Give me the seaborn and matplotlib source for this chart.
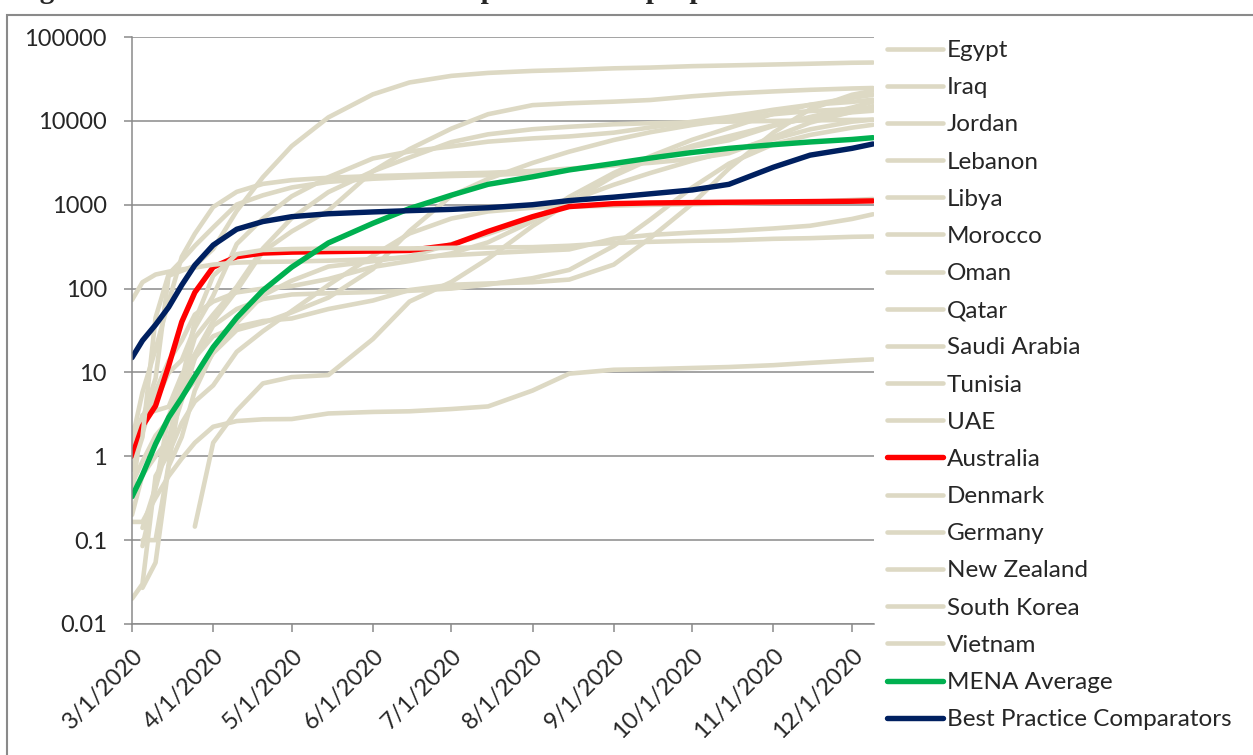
import numpy as np
import pandas as pd
import matplotlib
matplotlib.use("Agg")
import matplotlib.pyplot as plt
from matplotlib.patches import Rectangle
import seaborn as sns

# Date di riferimento (casi cumulati per milione di abitanti)
dates = ["2020-03-01", "2020-03-05", "2020-03-10", "2020-03-15", "2020-03-20", "2020-03-25",
         "2020-04-01", "2020-04-10", "2020-04-20", "2020-05-01", "2020-05-15", "2020-06-01",
         "2020-06-15", "2020-07-01", "2020-07-15", "2020-08-01", "2020-08-15", "2020-09-01",
         "2020-09-15", "2020-10-01", "2020-10-15", "2020-11-01", "2020-11-15", "2020-12-01",
         "2020-12-09"]
nan = np.nan

egypt = [0.02, 0.03, 0.58, 1.08, 2.5, 4.5, 7, 17.6, 31, 54, 110, 246, 454, 684, 831, 922, 947,
         973, 996, 1015, 1031, 1056, 1084, 1140, 1170]
iraq = [0.47, 0.87, 1.76, 2.7, 5.2, 7.9, 17, 32, 39, 52, 78, 171, 486, 1280, 2030, 3150, 4290,
        5910, 7320, 8930, 10340, 12000, 13090, 13850, 14150]
jordan = [nan, 0.1, 0.1, 0.8, 6.8, 15, 27, 35, 41, 44, 57, 72, 96, 111, 115, 119, 128, 193, 402,
          1025, 2700, 7250, 13760, 20470, 22850]
lebanon = [1.5, 1.9, 6, 13.7, 24, 49, 70, 90, 100, 107, 130, 181, 213, 263, 356, 637, 1240, 2390,
           3780, 5950, 8230, 12150, 15550, 18800, 20440]
libya = [nan, nan, nan, nan, nan, 0.145, 1.45, 3.5, 7.4, 8.8, 9.3, 25, 70, 120, 227, 556, 1060,
         2200, 3470, 5050, 6550, 8880, 10770, 12640, 13200]
morocco = [nan, 0.027, 0.054, 0.76, 1.7, 6.1, 17.7, 39, 83, 124, 183, 212, 242, 340, 448, 678,
           1110, 1730, 2390, 3350, 4345, 6060, 7920, 9770, 10350]
oman = [1.2, 3.1, 3.5, 3.9, 9.4, 16.5, 41, 95, 276, 480, 851, 2510, 4600, 8080, 12000, 15400,
        16220, 16940, 17730, 19660, 21130, 22440, 23440, 24330, 24650]
qatar = [0.35, 2.8, 8.5, 142, 163, 187, 296, 843, 2130, 5000, 11000, 20700, 28700, 34400, 37300,
         39400, 40500, 42300, 43200, 44900, 45800, 47000, 48000, 49300, 49600]
saudi = [nan, 0.14, 0.43, 3, 7.9, 26, 49, 105, 301, 692, 1413, 2504, 3665, 5580, 6910, 7950, 8500,
         9100, 9375, 9615, 9790, 9980, 10120, 10260, 10310]
tunisia = [nan, 0.085, 0.42, 1.5, 4.6, 14.7, 36, 57, 75, 85, 88, 91, 94, 100, 112, 133, 167, 322,
           666, 1606, 3090, 5270, 6790, 8300, 8980]
uae = [2.1, 2.8, 4.5, 9.9, 14, 34, 82, 340, 685, 1260, 2130, 3560, 4310, 4960, 5650, 6180, 6520,
       7230, 8350, 9760, 11120, 13570, 15520, 16830, 17880]
australia = [1, 2.3, 4, 12, 40, 90, 180, 240, 265, 272, 276, 280, 285, 330, 480, 720, 950, 1030,
             1050, 1060, 1070, 1080, 1090, 1100, 1110]
denmark = [0.69, 1.7, 45, 149, 216, 323, 535, 1005, 1295, 1605, 1872, 2040, 2128, 2200, 2250,
           2380, 2620, 2945, 3550, 4900, 5870, 8710, 11130, 14400, 16900]
germany = [1.57, 5.8, 18.9, 70, 239, 450, 938, 1424, 1772, 1964, 2098, 2195, 2251, 2346, 2402,
           2526, 2692, 2949, 3154, 3515, 4111, 6420, 9524, 12860, 14960]
new_zealand = [0.2, 0.6, 1.0, 1.6, 7.8, 41, 142, 257, 288, 296, 300, 301, 301, 306, 309, 312, 324,
               350, 361, 371, 376, 392, 399, 414, 418]
south_korea = [73, 119, 147, 159, 169, 178, 193, 204, 208, 210, 215, 224, 236, 250, 264, 280, 293,
               393, 436, 466, 485, 521, 561, 676, 769]
vietnam = [0.165, 0.165, 0.32, 0.58, 0.94, 1.45, 2.25, 2.63, 2.76, 2.78, 3.24, 3.38, 3.44, 3.66,
           3.93, 6.08, 9.67, 10.76, 10.96, 11.3, 11.6, 12.2, 13.0, 13.9, 14.3]
mena_average = [0.33, 0.6, 1.4, 2.9, 5, 9, 20, 45, 95, 180, 350, 600, 900, 1300, 1750, 2150, 2600,
                3100, 3600, 4200, 4700, 5200, 5600, 6000, 6300]
best_practice = [15, 24, 37, 60, 110, 190, 330, 510, 630, 720, 780, 820, 850, 880, 920, 1000, 1120,
                 1230, 1350, 1500, 1750, 2800, 3900, 4700, 5300]

series_names = ["Egypt", "Iraq", "Jordan", "Lebanon", "Libya", "Morocco", "Oman", "Qatar",
                "Saudi Arabia", "Tunisia", "UAE", "Australia", "Denmark", "Germany",
                "New Zealand", "South Korea", "Vietnam", "MENA Average",
                "Best Practice Comparators"]
series_values = [egypt, iraq, jordan, lebanon, libya, morocco, oman, qatar, saudi, tunisia, uae,
                 australia, denmark, germany, new_zealand, south_korea, vietnam, mena_average,
                 best_practice]

y_ticks = [0.01, 0.1, 1, 10, 100, 1000, 10000, 100000]
y_tick_labels = ["0.01", "0.1", "1", "10", "100", "1000", "10000", "100000"]
x_ticks = ["2020-03-01", "2020-04-01", "2020-05-01", "2020-06-01", "2020-07-01", "2020-08-01",
           "2020-09-01", "2020-10-01", "2020-11-01", "2020-12-01"]
x_tick_labels = ["3/1/2020", "4/1/2020", "5/1/2020", "6/1/2020", "7/1/2020", "8/1/2020",
                 "9/1/2020", "10/1/2020", "11/1/2020", "12/1/2020"]

# Colori
beige = "#DDD9C4"
colori = {"Australia": "#FF0000", "MENA Average": "#00B050",
          "Best Practice Comparators": "#002060"}

sns.set_style("white")
plt.rcParams["font.family"] = ["Lato", "DejaVu Sans"]

W, H = 1253, 755
fig = plt.figure(figsize=(W / 100, H / 100), dpi=100)
ax = fig.add_axes([132 / W, 1 - 624 / H, (874 - 132) / W, (624 - 37) / H])

# Linee
dt = pd.to_datetime(dates)
for nome, valori in zip(series_names, series_values):
    df = pd.DataFrame({"data": dt, "casi": valori}).dropna()
    colore = colori.get(nome, beige)
    lw = 3.9 if nome in colori else 3.3
    sns.lineplot(data=df, x="data", y="casi", color=colore, linewidth=lw, label=nome, ax=ax,
                 solid_capstyle="round", solid_joinstyle="round")

ax.set_yscale("log")
ax.set_ylim(0.01, 100000)
ax.set_xlim(pd.Timestamp("2020-03-01"), pd.Timestamp("2020-12-09 10:00"))
ax.set_yticks(y_ticks)
ax.set_yticklabels(y_tick_labels)
ax.yaxis.set_minor_locator(matplotlib.ticker.NullLocator())
ax.set_xticks(pd.to_datetime(x_ticks))
ax.set_xticklabels(x_tick_labels, rotation=45, ha="right", rotation_mode="anchor")
ax.set_xlabel("")
ax.set_ylabel("")

grigio = "#8A8A8A"
ax.grid(axis="y", color=grigio, linewidth=1.1)
ax.grid(axis="x", visible=False)
ax.set_axisbelow(True)
for s in ["top", "right"]:
    ax.spines[s].set_visible(False)
for s in ["left", "bottom"]:
    ax.spines[s].set_color(grigio)
    ax.spines[s].set_linewidth(1.1)
ax.tick_params(axis="y", length=6, width=1.1, color=grigio, pad=12, labelsize=17, left=True)
ax.tick_params(axis="x", length=6, width=1.1, color=grigio, pad=9, labelsize=17, bottom=True)

# Legenda a destra
ax.legend(loc="upper left", bbox_to_anchor=(887 / W, 1 - 40 / H), bbox_transform=fig.transFigure,
          frameon=False, fontsize=17.5, handlelength=2.3, handletextpad=0.16, labelspacing=0.665,
          borderpad=0, borderaxespad=0)

# Cornice e titolo tagliato in alto
fig.patches.append(Rectangle((7 / W, -0.1), 1.2, 1.1 - 15 / H, transform=fig.transFigure,
                             fill=False, edgecolor=grigio, linewidth=1.5))
fig.text(14 / W, 1 + 2 / H, "Figure 4. COVID-19 confirmed cases per 1 million people in Australia",
         family="Liberation Serif", weight="bold", fontsize=21, va="baseline")

fig.savefig("out.png", dpi=100)
